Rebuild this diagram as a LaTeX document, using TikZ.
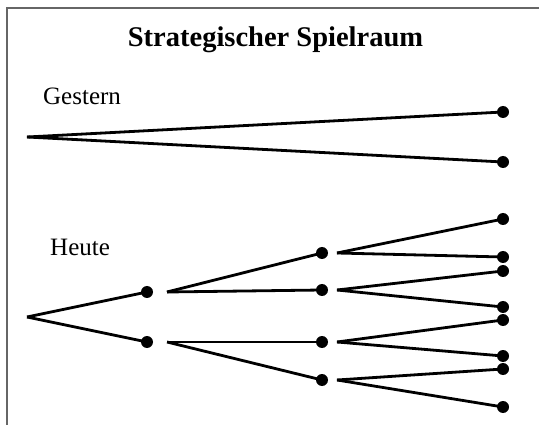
\documentclass[tikz,border=0pt]{standalone}
\usepackage{fontspec}
\setmainfont{Liberation Serif}
\begin{document}
\begin{tikzpicture}[x=1pt,y=-1pt,
  dot/.style={circle,fill=black,inner sep=0pt,minimum size=12pt},
  edge/.style={draw=black,line width=2.8pt},
  lbl/.style={font=\fontsize{25}{30}\selectfont,anchor=base west,inner sep=0pt},
  ttl/.style={font=\fontsize{28.5}{33}\selectfont\bfseries,anchor=base,inner sep=0pt},
  frame/.style={draw=black!60,line width=1.5pt}]
\useasboundingbox (0,0) rectangle (539,425);
\draw[frame] (7,425) -- (7,8) -- (540,8);
\node[ttl] (title) at (275.5,47) {Strategischer Spielraum};
\node[lbl] (gestern) at (43,105) {Gestern};
\node[lbl] (heute) at (50,256) {Heute};
% Gestern
\coordinate (g0) at (27,137);
\node[dot] (g1) at (503,112) {};
\node[dot] (g2) at (503,162) {};
\draw[edge] (g0) -- (g1.center);
\draw[edge] (g0) -- (g2.center);
% Heute
\coordinate (h0) at (27,317);
\node[dot] (a1) at (147,292) {};
\node[dot] (a2) at (147,342) {};
\draw[edge] (h0) -- (a1.center);
\draw[edge] (h0) -- (a2.center);
\coordinate (a1s) at (167,292);
\coordinate (a2s) at (167,342);
\node[dot] (b1) at (322,253) {};
\node[dot] (b2) at (322,290) {};
\node[dot] (b3) at (322,342) {};
\node[dot] (b4) at (322,380) {};
\draw[edge] (a1s) -- (b1.center);
\draw[edge] (a1s) -- (b2.center);
\draw[edge] (a2s) -- (b3.center);
\draw[edge] (a2s) -- (b4.center);
\coordinate (b1s) at (337,253);
\coordinate (b2s) at (337,290);
\coordinate (b3s) at (337,342);
\coordinate (b4s) at (337,380);
\node[dot] (c1) at (503,219) {};
\node[dot] (c2) at (503,257) {};
\node[dot] (c3) at (503,271) {};
\node[dot] (c4) at (503,307) {};
\node[dot] (c5) at (503,320) {};
\node[dot] (c6) at (503,356) {};
\node[dot] (c7) at (503,369) {};
\node[dot] (c8) at (503,407) {};
\draw[edge] (b1s) -- (c1.center);
\draw[edge] (b1s) -- (c2.center);
\draw[edge] (b2s) -- (c3.center);
\draw[edge] (b2s) -- (c4.center);
\draw[edge] (b3s) -- (c5.center);
\draw[edge] (b3s) -- (c6.center);
\draw[edge] (b4s) -- (c7.center);
\draw[edge] (b4s) -- (c8.center);
\end{tikzpicture}
\end{document}
